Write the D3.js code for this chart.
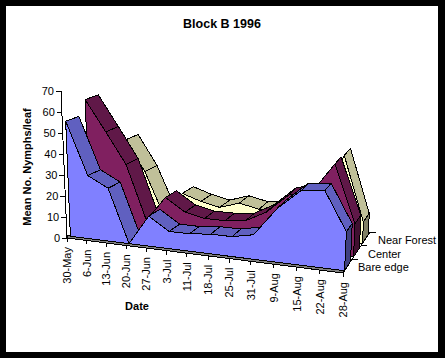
<!DOCTYPE html>
<html>
<head>
<meta charset="utf-8">
<script src="https://cdn.jsdelivr.net/npm/d3@7"></script>
<style>
  html, body { margin: 0; padding: 0; background: #fff; }
  text { font-family: "Liberation Sans", Arial, sans-serif; fill: #000; }
  path, line { shape-rendering: crispEdges; }
</style>
</head>
<body>
<div id="chart"></div>
<script>
const dates = ["30-May","6-Jun","13-Jun","20-Jun","27-Jun","3-Jul","11-Jul","18-Jul","25-Jul","31-Jul","9-Aug","15-Aug","22-Aug","28-Aug"];
const seriesNames = ["Bare edge","Center","Near Forest"];
const bareEdge = [55,30,25,0,14,8,8,9,9,11,24,33,34,17];
const center = [62,47,32,6,18,12,10,10,11,16,25,27,41,15];
const nearForest = [0,39,24,3,15,12,10,13,11,12,10,16,40,10];
const valueTicks = [0,10,20,30,40,50,60,70];

const width = 445, height = 358;

const svg = d3.select("#chart")
  .append("svg")
  .attr("width", width)
  .attr("height", height)
  .style("display", "block");

// black frame around the white plot area
svg.append("rect").attr("width", width).attr("height", height).attr("fill", "#000");
svg.append("rect").attr("x", 6).attr("y", 6).attr("width", 432).attr("height", 346).attr("fill", "#fff");

// scales: each one gives 0..1 along one edge of the 3d box
const u = d3.scaleLinear()
  .domain([0, 3, 6, 9, 13])
  .range([0, 0.214, 0.434, 0.666, 1]);
const w = d3.scaleLinear().domain([0, seriesNames.length]).range([0, 1]);
const t = d3.scaleLinear().domain([0, 70]).range([0, 1]);

// projected corners of the box, f = front, b = back, l/r, 0 = floor, 1 = top
const box = {
  fl0: [67, 238], fr0: [343, 273], bl0: [127, 208], br0: [370, 232],
  fl1: [61, 91], fr1: [351, 112], bl1: [121, 71], br1: [375, 85]
};

function mix(a, b, k) { return [a[0] + (b[0] - a[0]) * k, a[1] + (b[1] - a[1]) * k]; }

function project(i, d, v) {
  const a = u(i), b = w(d), c = t(v);
  const f0 = mix(box.fl0, box.fr0, a), b0 = mix(box.bl0, box.br0, a);
  const f1 = mix(box.fl1, box.fr1, a), b1 = mix(box.bl1, box.br1, a);
  return mix(mix(f0, b0, b), mix(f1, b1, b), c);
}

const line = d3.line();
const gap = 0.17;

function poly(g, pts, fill) {
  g.append("path")
    .attr("d", line(pts) + "Z")
    .attr("fill", fill)
    .attr("stroke", "#000")
    .attr("stroke-width", 1)
    .attr("stroke-linejoin", "round");
}

// floor edge
const floor = svg.append("g");
poly(floor, [project(0, 0, 0), project(dates.length - 1, 0, 0),
             [project(dates.length - 1, 0, 0)[0], project(dates.length - 1, 0, 0)[1] - 3],
             [project(0, 0, 0)[0], project(0, 0, 0)[1] - 3]], "#808080");

const seriesData = [
  {values: bareEdge, front: "#8080ff", top: "#6060c0", side: "#404080", d: 0},
  {values: center, front: "#802060", top: "#601848", side: "#401030", d: 1},
  {values: nearForest, front: "#ffffcc", top: "#c0c099", side: "#808066", d: 2}
];

// back series first
seriesData.slice().reverse().forEach(s => {
  const g = svg.append("g");
  const d0 = s.d + gap, d1 = s.d + 1 - gap, last = s.values.length - 1;

  // top surface, one quad per interval
  d3.pairs(d3.range(s.values.length)).forEach(([a, b]) => {
    poly(g, [project(a, d0, s.values[a]), project(b, d0, s.values[b]),
             project(b, d1, s.values[b]), project(a, d1, s.values[a])], s.top);
  });

  // right end
  poly(g, [project(last, d0, 0), project(last, d1, 0),
           project(last, d1, s.values[last]), project(last, d0, s.values[last])], s.side);

  // front face
  const pts = s.values.map((v, i) => project(i, d0, v));
  pts.push(project(last, d0, 0), project(0, d0, 0));
  poly(g, pts, s.front);
});

const axisLine = (a, b) => svg.append("line")
  .attr("x1", a[0]).attr("y1", a[1]).attr("x2", b[0]).attr("y2", b[1])
  .attr("stroke", "#000");

// value axis
axisLine(project(0, 0, 0), project(0, 0, 70));
valueTicks.forEach(v => {
  const p = project(0, 0, v);
  axisLine(p, [p[0] - 5, p[1]]);
  svg.append("text")
    .attr("x", p[0] - 7).attr("y", p[1] + 4)
    .attr("text-anchor", "end")
    .style("font-size", "11px")
    .text(v);
});

// date axis
dates.forEach((name, i) => {
  const p = project(i, 0, 0);
  axisLine(p, [p[0], p[1] + 4]);
  svg.append("text")
    .attr("transform", `translate(${p[0] + 4},${p[1] + 9}) rotate(-90)`)
    .attr("text-anchor", "end")
    .style("font-size", "11px")
    .text(name);
});

// depth axis
axisLine(project(dates.length - 1, 0, 0), project(dates.length - 1, 3, 0));
seriesNames.forEach((name, i) => {
  const p = project(dates.length - 1, i + 1, 0);
  axisLine(p, [p[0] + 6, p[1]]);
  svg.append("text")
    .attr("x", p[0] + 5 + (i + 1)).attr("y", p[1] + 12)
    .style("font-size", "11px")
    .text(name);
});

// titles
svg.append("text").attr("x", 222).attr("y", 28).attr("text-anchor", "middle")
  .style("font-size", "12.5px").style("font-weight", "bold").text("Block B 1996");
svg.append("text").attr("transform", "translate(31,167) rotate(-90)").attr("text-anchor", "middle")
  .style("font-size", "11px").style("font-weight", "bold").text("Mean No. Nymphs/leaf");
svg.append("text").attr("x", 137).attr("y", 310).attr("text-anchor", "middle")
  .style("font-size", "11px").style("font-weight", "bold").text("Date");
</script>
</body>
</html>
